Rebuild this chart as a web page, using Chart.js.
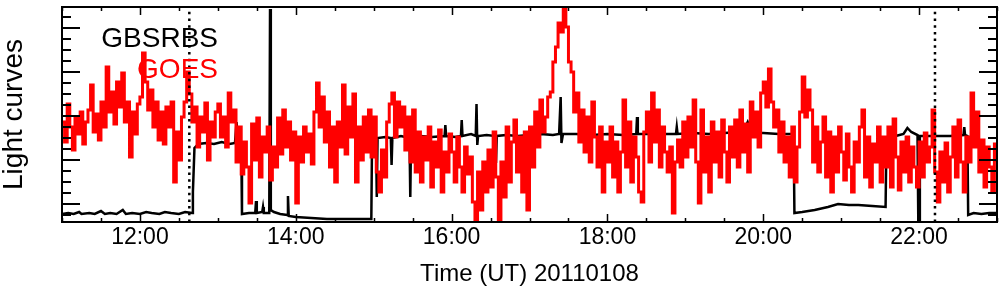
<!DOCTYPE html>
<html>
<head>
<meta charset="utf-8">
<script src="https://cdn.jsdelivr.net/npm/chart.js@4.4.0/dist/chart.umd.min.js"></script>
<style>
  body { margin: 0; background: #fff; }
  canvas { display: block; }
</style>
</head>
<body>
<canvas id="lightCurves" width="1004" height="296"></canvas>
<script>
// GBSRBS light curve (time in hours UT, arbitrary flux)
const gbsTimes = [
  11.00, 11.08, 11.15, 11.22, 11.25, 11.35, 11.42, 11.50, 11.55, 11.62, 11.70, 11.78, 11.82, 11.90,
  12.00, 12.08, 12.15, 12.25, 12.32, 12.40, 12.50, 12.58, 12.67, 12.68, 12.70, 12.75, 12.85, 12.95,
  13.05, 13.15, 13.22, 13.24, 13.26, 13.30, 13.31, 13.40, 13.48, 13.49, 13.50, 13.57, 13.58, 13.59,
  13.66, 13.67, 13.68, 13.72, 13.80, 13.89, 13.90, 13.91, 14.00, 14.20, 14.40, 14.60, 14.80, 14.97,
  14.98, 15.00, 15.03, 15.04, 15.05, 15.15, 15.22, 15.23, 15.24, 15.35, 15.46, 15.47, 15.48, 15.60,
  15.75, 15.91, 15.92, 15.93, 16.05, 16.12, 16.13, 16.14, 16.25, 16.31, 16.32, 16.33, 16.34, 16.45,
  16.56, 16.57, 16.58, 16.70, 16.85, 17.00, 17.14, 17.15, 17.16, 17.30, 17.38, 17.40, 17.41, 17.43,
  17.60, 17.80, 18.00, 18.20, 18.37, 18.38, 18.39, 18.60, 18.88, 18.89, 18.90, 19.10, 19.30, 19.50,
  19.70, 19.72, 19.74, 19.80, 19.85, 20.00, 20.20, 20.39, 20.40, 20.50, 20.66, 20.83, 20.96, 21.10,
  21.22, 21.40, 21.57, 21.58, 21.62, 21.70, 21.80, 21.85, 21.90, 21.98, 21.99, 22.00, 22.01, 22.20,
  22.40, 22.57, 22.58, 22.59, 22.62, 22.63, 22.70, 22.80, 22.90, 23.00
];
const gbsFlux = [
  8, 9, 8, 10, 8, 9, 8, 11, 8, 9, 8, 12, 8, 9,
  8, 10, 9, 8, 10, 9, 8, 10, 9, 30, 74, 78, 79, 78,
  80, 78, 79, 100, 80, 79, 8, 9, 9, 21, 9, 10, 15, 9,
  9, 213, 12, 10, 8, 7, 26, 6, 5, 4, 3, 3, 3, 3,
  90, 84, 84, 25, 84, 85, 84, 57, 84, 86, 84, 25, 84, 86,
  85, 86, 97, 86, 85, 86, 102, 86, 88, 86, 118, 77, 86, 87,
  86, 59, 86, 87, 86, 87, 88, 109, 88, 87, 88, 125, 79, 88,
  88, 87, 88, 87, 88, 105, 88, 88, 88, 95, 88, 89, 88, 89,
  90, 102, 90, 100, 89, 89, 88, 88, 9, 10, 12, 15, 18, 17,
  17, 16, 15, 75, 82, 86, 88, 94, 90, 87, 0, 0, 86, 86,
  86, 87, 95, 87, 86, 7, 9, 8, 9, 9
];

// GOES light curve, one value every 2 minutes from 11:00 UT
const goesStart = 11;
const goesStep = 1 / 30;
const goesFlux = [
  // 11h
  100, 80, 118, 95, 72, 105, 88, 110, 78, 100, 112, 137, 90, 108, 82, 120, 95, 155, 110, 130,
  98, 140, 115, 149, 100, 120, 65, 110, 88, 118,
  // 12h
  125, 169, 140, 112, 132, 95, 120, 82, 110, 78, 115, 95, 120, 40, 90, 62, 105, 120, 150, 128,
  100, 115, 75, 105, 90, 119, 62, 100, 85, 110,
  // 13h
  118, 85, 105, 75, 129, 100, 112, 60, 95, 48, 80, 55, 19, 98, 62, 104, 45, 85, 70, 95,
  42, 75, 55, 104, 68, 112, 75, 100, 62, 90,
  // 14h
  19, 85, 60, 95, 70, 88, 58, 110, 139, 95, 125, 80, 110, 55, 95, 40, 100, 75, 137, 68,
  115, 85, 128, 40, 95, 62, 105, 70, 112, 65,
  // 15h
  105, 50, 30, 72, 45, 100, 118, 129, 85, 120, 95, 115, 72, 105, 60, 112, 50, 90, 40, 85,
  62, 95, 35, 80, 55, 92, 30, 70, 50, 88,
  // 16h
  70, 40, 85, 55, 30, 75, 48, 65, 20, 0, 50, 12, 60, 30, 72, 35, 90, 45, 0, 60,
  25, 95, 40, 80, 102, 50, 85, 30, 90, 12,
  // 17h
  95, 55, 110, 75, 122, 90, 105, 125, 130, 160, 175, 199, 190, 215, 195, 160, 150, 110, 129, 80,
  112, 70, 105, 60, 120, 85, 55, 95, 30, 80,
  // 18h
  60, 95, 45, 80, 30, 70, 122, 55, 100, 40, 85, 65, 30, 20, 90, 110, 60, 129, 80, 112,
  55, 95, 70, 50, 75, 9, 60, 82, 55, 100,
  // 19h
  65, 105, 75, 122, 60, 19, 112, 50, 85, 30, 100, 60, 90, 45, 102, 70, 40, 95, 65, 102,
  55, 112, 70, 98, 50, 120, 85, 110, 75, 129,
  // 20h
  140, 115, 153, 120, 95, 112, 70, 100, 60, 85, 45, 95, 40, 75, 110, 145, 105, 132, 112, 60,
  95, 50, 80, 105, 45, 90, 30, 85, 50, 95,
  // 21h
  70, 42, 88, 55, 30, 80, 60, 95, 112, 45, 85, 35, 78, 60, 95, 40, 85, 55, 95, 35,
  103, 65, 32, 80, 50, 85, 40, 75, 55, 35,
  // 22h
  80, 45, 89, 60, 75, 112, 50, 20, 70, 40, 79, 30, 65, 95, 45, 102, 60, 30, 85, 60,
  129, 75, 110, 50, 82, 35, 75, 55, 30, 78, 60
];

// dotted reference times (hours UT)
const markerTimes = [12.634, 22.204];

// axis ticks
const xTickStep = 0.5;
const yTickValues = [7, 18, 29, 40, 51, 62, 73, 84, 95, 106, 117, 128, 139, 150, 161, 172, 183, 194, 205];
const yMajorTicks = [18, 62, 106, 150, 194];
const yMin = 0, yMax = 215;

const goesPoints = goesFlux.map((v, i) => ({ x: goesStart + i * goesStep, y: v }));
const gbsPoints = gbsTimes.map((t, i) => ({ x: t, y: gbsFlux[i] }));

const markerSets = markerTimes.map(t => ({
    data: [{ x: t, y: yMin }, { x: t, y: yMax }],
    borderColor: '#000',
    borderWidth: 2.5,
    borderDash: [2.5, 4.2],
    pointRadius: 0
}));

Chart.defaults.font.family = "'Liberation Sans', Arial, sans-serif";
Chart.defaults.color = '#000';

// legend text and inward tick marks like the original plot
const framePlugin = {
    id: 'frame',
    afterDraw(chart) {
        const { ctx, chartArea: a } = chart;
        const xs = chart.scales.x, ys = chart.scales.y;
        ctx.save();
        ctx.strokeStyle = '#000';
        ctx.lineWidth = 2;
        ctx.strokeRect(a.left, a.top, a.right - a.left, a.bottom - a.top);

        ctx.lineWidth = 1.5;
        xs.ticks.forEach(t => {
            const px = Math.round(xs.getPixelForValue(t.value)) + 0.5;
            const len = t.value % 2 === 0 ? 8 : 4;
            ctx.beginPath();
            ctx.moveTo(px, a.bottom); ctx.lineTo(px, a.bottom - len);
            ctx.moveTo(px, a.top); ctx.lineTo(px, a.top + len);
            ctx.stroke();
        });
        ctx.lineWidth = 2;
        ys.ticks.forEach(t => {
            const py = Math.round(ys.getPixelForValue(t.value));
            const len = yMajorTicks.includes(t.value) ? 18 : 9;
            ctx.beginPath();
            ctx.moveTo(a.left, py); ctx.lineTo(a.left + len, py);
            ctx.moveTo(a.right, py); ctx.lineTo(a.right - len, py);
            ctx.stroke();
        });

        ctx.font = "28px 'Liberation Sans', Arial, sans-serif";
        ctx.textAlign = 'right';
        ctx.textBaseline = 'alphabetic';
        ctx.fillStyle = '#000';
        ctx.fillText('GBSRBS', 218, 47);
        ctx.fillStyle = '#ff0000';
        ctx.fillText('GOES', 218, 78);
        ctx.restore();
    }
};

new Chart(document.getElementById('lightCurves'), {
    type: 'line',
    data: {
        datasets: [
            ...markerSets,
            {
                label: 'GOES',
                data: goesPoints,
                borderColor: '#ff0000',
                borderWidth: 3,
                stepped: true,
                pointRadius: 0
            },
            {
                label: 'GBSRBS',
                data: gbsPoints,
                borderColor: '#000',
                borderWidth: 2.5,
                pointRadius: 0
            }
        ]
    },
    options: {
        responsive: false,
        animation: false,
        devicePixelRatio: 1,
        layout: { padding: { top: 7, right: 7, left: 0, bottom: 0 } },
        plugins: { legend: { display: false }, tooltip: { enabled: false } },
        scales: {
            x: {
                type: 'linear',
                min: 11,
                max: 23,
                grid: { display: false, drawTicks: false },
                border: { display: false },
                ticks: {
                    stepSize: xTickStep,
                    autoSkip: false,
                    maxRotation: 0,
                    padding: 2,
                    font: { size: 23 },
                    callback: v => (v % 2 === 0 ? String(v).padStart(2, '0') + ':00' : '')
                },
                title: {
                    display: true,
                    text: 'Time (UT) 20110108',
                    font: { size: 24 },
                    padding: { top: 0, bottom: 7 }
                },
                afterFit(scale) { scale.height = 74; }
            },
            y: {
                min: yMin,
                max: yMax,
                grid: { display: false, drawTicks: false },
                border: { display: false },
                ticks: { display: false },
                afterBuildTicks(scale) { scale.ticks = yTickValues.map(v => ({ value: v })); },
                title: {
                    display: true,
                    text: 'Light curves',
                    font: { size: 28, lineHeight: 1 },
                    padding: { top: 0, bottom: 0 }
                },
                afterFit(scale) { scale.width = 62; }
            }
        }
    },
    plugins: [framePlugin]
});
</script>
</body>
</html>
